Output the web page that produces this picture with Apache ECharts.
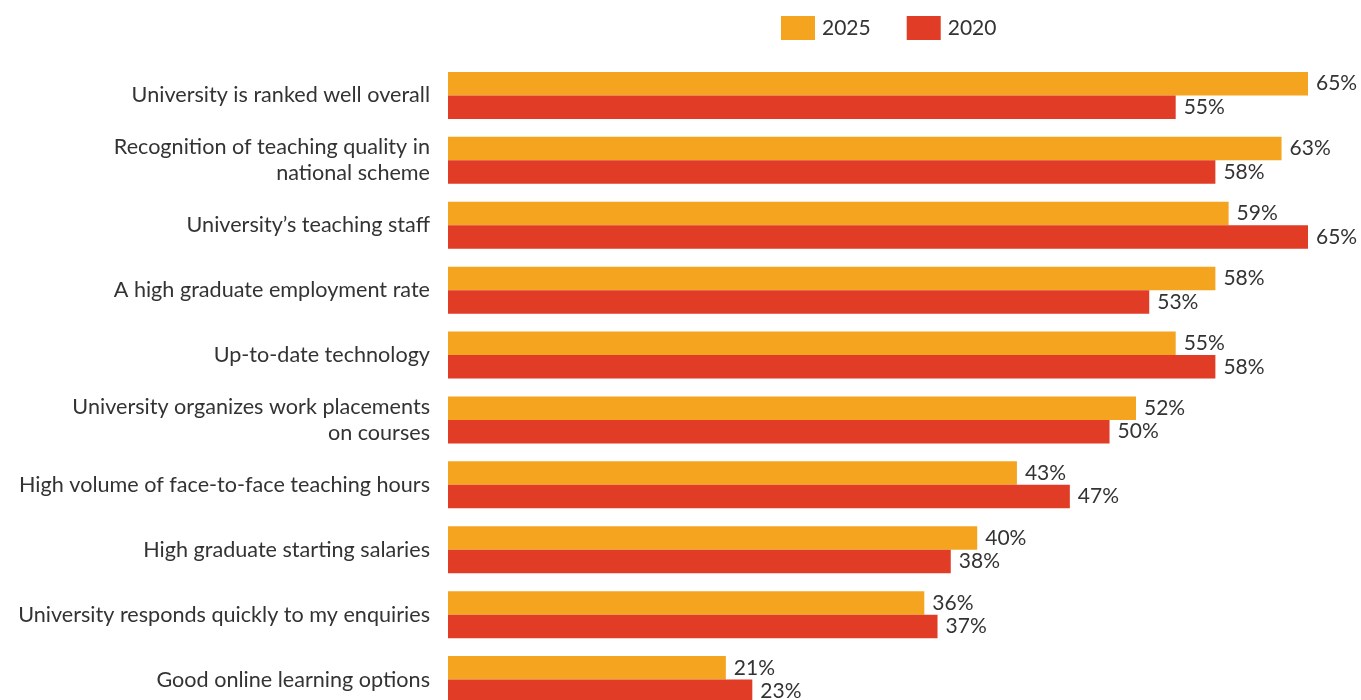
<!DOCTYPE html>
<html>
<head>
<meta charset="utf-8">
<script src="https://cdn.jsdelivr.net/npm/echarts@6/dist/echarts.min.js"></script>
<style>
  html, body { margin: 0; padding: 0; background: #fff; }
  #chart { width: 1361px; height: 700px; }
</style>
</head>
<body>
<div id="chart"></div>
<script>
// Reasons for choosing a university, share of respondents by survey year
const categories = [
  'University is ranked well overall',
  'Recognition of teaching quality in\nnational scheme',
  'University\u2019s teaching staff',
  'A high graduate employment rate',
  'Up-to-date technology',
  'University organizes work placements\non courses',
  'High volume of face-to-face teaching hours',
  'High graduate starting salaries',
  'University responds quickly to my enquiries',
  'Good online learning options'
];
const values2025 = [65, 63, 59, 58, 55, 52, 43, 40, 36, 21];
const values2020 = [55, 58, 65, 53, 58, 50, 47, 38, 37, 23];

const FONT = 'Lato, "Open Sans", sans-serif';
const TEXT = '#333333';

const chart = echarts.init(document.getElementById('chart'), null, { renderer: 'canvas' });

const labelStyle = {
  show: true,
  position: 'right',
  distance: 8,
  color: TEXT,
  fontFamily: FONT,
  fontSize: 21,
  formatter: p => p.value + '%'
};

chart.setOption({
  animation: false,
  backgroundColor: '#ffffff',
  legend: {
    top: 11,
    left: 776,
    itemWidth: 34,
    itemHeight: 24,
    itemGap: 36,
    icon: 'rect',
    textStyle: { color: TEXT, fontFamily: FONT, fontSize: 21, padding: [0, 0, 0, 2] },
    data: ['2025', '2020']
  },
  grid: {
    left: 448, top: 63, width: 860, height: 649,
    containLabel: false,
    outerBoundsMode: 'none'
  },
  xAxis: {
    type: 'value',
    min: 0,
    max: 65,
    show: false
  },
  yAxis: {
    type: 'category',
    inverse: true,
    data: categories,
    axisLine: { show: false },
    axisTick: { show: false },
    axisLabel: {
      margin: 18,
      color: TEXT,
      fontFamily: FONT,
      fontSize: 21.6,
      lineHeight: 26,
      align: 'right'
    }
  },
  series: [
    {
      name: '2025',
      type: 'bar',
      data: values2025,
      barWidth: 23.5,
      barGap: '0%',
      itemStyle: { color: '#F5A41F' },
      label: labelStyle
    },
    {
      name: '2020',
      type: 'bar',
      data: values2020,
      barWidth: 23.5,
      itemStyle: { color: '#E03C26' },
      label: labelStyle
    }
  ]
});
</script>
</body>
</html>
